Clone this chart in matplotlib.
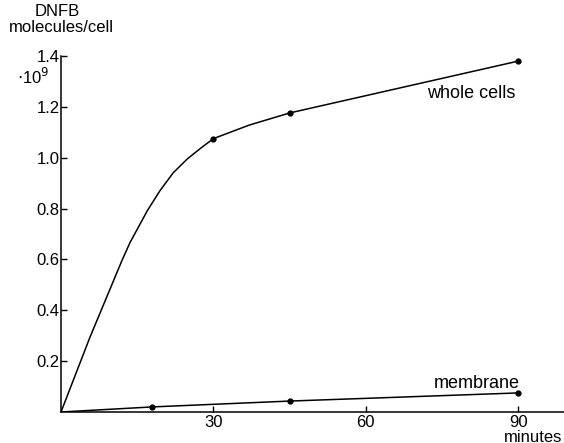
import matplotlib.pyplot as plt

plt.rcParams['font.family'] = ['Liberation Sans', 'DejaVu Sans']

whole_t = [0, 5.7, 12.0, 13.6, 17.0, 19.5, 22.1, 24.9, 27.6, 30, 37, 45, 90]
whole_y = [0, 0.294, 0.596, 0.667, 0.792, 0.871, 0.941, 0.996, 1.039, 1.075, 1.128, 1.176, 1.38]
whole_dot_t = [30, 45, 90]
whole_dot_y = [1.075, 1.176, 1.38]

membrane_t = [0, 18, 45, 90]
membrane_y = [0, 0.02, 0.043, 0.075]

y_ticks = [0.2, 0.4, 0.6, 0.8, 1.0, 1.2, 1.4]
y_labels = ['0.2', '0.4', '0.6', '0.8', '1.0', '1.2', '1.4']
x_ticks = [30, 60, 90]
x_labels = ['30', '60', '90']

W, H = 564, 443
fig = plt.figure(figsize=(W / 100, H / 100), dpi=100)
ax = fig.add_axes([61 / W, 31 / H, (W - 61) / W, (412 - 56) / H])

ax.plot(whole_t, whole_y, color='black', lw=1.1)
ax.plot(whole_dot_t, whole_dot_y, 'o', color='black', ms=3.5)
ax.plot(membrane_t, membrane_y, color='black', lw=1.1)
ax.plot(membrane_t[1:], membrane_y[1:], 'o', color='black', ms=3.5)

ax.set_xlim(0, 99)
ax.set_ylim(0, 1.4)
ax.set_xticks(x_ticks, x_labels)
ax.set_yticks(y_ticks, y_labels)
ax.tick_params(direction='in', length=4, width=1, labelsize=12, pad=1)
ax.tick_params(axis='x', pad=2)
for s in ['top', 'right']:
    ax.spines[s].set_visible(False)
for s in ['left', 'bottom']:
    ax.spines[s].set_linewidth(1.1)
ax.spines['left'].set_bounds(0, 1.4)

def px_text(x, y, s, size=12, **kw):
    fig.text(x / W, 1 - y / H, s, fontsize=size, va='center', **kw)

px_text(57, 11, 'DNFB', ha='center')
px_text(61, 27, 'molecules/cell', ha='center')
px_text(33, 77, r'$\cdot$10$^9$', ha='center')
px_text(471, 93, 'whole cells', size=13, ha='center')
px_text(477, 384, 'membrane', size=13, ha='center')
px_text(562, 437, 'minutes', ha='right')

fig.savefig('out.png', dpi=100)
